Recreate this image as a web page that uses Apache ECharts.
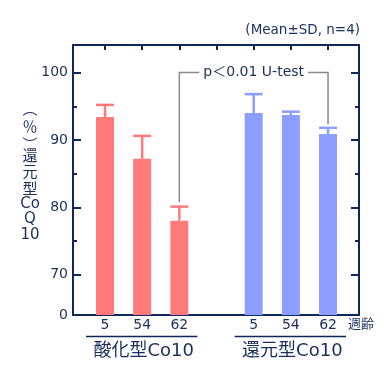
<!DOCTYPE html>
<html><head><meta charset="utf-8">
<script src="https://cdn.jsdelivr.net/npm/echarts@6/dist/echarts.min.js"></script>
<style>html,body{margin:0;padding:0;background:#fff}#c{width:384px;height:374px}</style>
</head><body><div id="c"></div>
<script>
// ---- data ----
const ages = ['5', '54', '62'];
const groupNames = ['酸化型Co10', '還元型Co10'];
const oxidizedMean = [93.4, 87.2, 78.0];
const oxidizedSD = [1.8, 3.4, 2.1];
const reducedMean = [94.0, 93.7, 90.9];
const reducedSD = [2.8, 0.5, 0.9];
const yMajorTicks = [70, 80, 90, 100];
const yMinorTicks = [75, 85, 95];
const yBreakValue = 64;      // bottom of the broken axis
const yBreakLabel = '0';
const yTop = 104.1;
const bracketLevel = 100;
const testText = 'p＜0.01 U-test';
const noteText = '(Mean±SD, n=4)';
const ageUnit = '週齢';
const yTitleParts = ['︵', '％', '︶', '還', '元', '型', 'Co', 'Q', '10'];

// ---- styles ----
const RED = '#FF7B7B', BLUE = '#8C9EFF', NAVY = '#10275A', TEXT = '#1A2E5E', GRAY = '#8A8A8A';
const FONT = '"DejaVu Sans", "Noto Sans CJK JP", sans-serif';
const CJK = '"Noto Sans CJK JP", sans-serif';

// slot positions: groups separated by one empty slot
const slotsPerGroup = ages.length + 1;
const slotOf = (g, i) => g * slotsPerGroup + i + 1;
const allSlots = [];
for (let s = 1; s <= slotsPerGroup * groupNames.length - 1; s++) allSlots.push(s);
const labelSlots = [];
const slotLabel = {};
groupNames.forEach((_, g) => ages.forEach((a, i) => { labelSlots.push(slotOf(g, i)); slotLabel[slotOf(g, i)] = a; }));

const means = [oxidizedMean, reducedMean];
const sds = [oxidizedSD, reducedSD];
const barData = [], errData = [];
means.forEach((arr, g) => arr.forEach((m, i) => {
  barData.push({ value: [slotOf(g, i), m], itemStyle: { color: g === 0 ? RED : BLUE } });
  errData.push([slotOf(g, i), m, sds[g][i], g]);
}));
const lastIdx = ages.length - 1;
const bracketData = [[slotOf(0, lastIdx), oxidizedMean[lastIdx] + oxidizedSD[lastIdx],
                      slotOf(1, lastIdx), reducedMean[lastIdx] + reducedSD[lastIdx], bracketLevel]];

const xMin = 0.139, xMax = 7.833;

const chart = echarts.init(document.getElementById('c'), null, { renderer: 'canvas' });
const baseX = { type: 'value', min: xMin, max: xMax, splitLine: { show: false } };
const baseY = { type: 'value', min: yBreakValue, max: yTop, splitLine: { show: false } };
const axisLine = { show: true, lineStyle: { color: NAVY, width: 2 } };

chart.setOption({
  animation: false,
  grid: { left: 73, right: 25, top: 45, bottom: 59, containLabel: false },
  textStyle: { fontFamily: FONT },
  xAxis: [
    Object.assign({}, baseX, {
      position: 'bottom', axisLine: axisLine, axisTick: { show: false },
      axisLabel: { customValues: labelSlots, formatter: v => slotLabel[Math.round(v)] || '',
        color: TEXT, fontSize: 14, margin: 3, fontFamily: FONT }
    }),
    Object.assign({}, baseX, {
      position: 'top', axisLine: axisLine,
      axisTick: { show: true, inside: true, length: 5, customValues: allSlots, lineStyle: { color: NAVY, width: 2 } },
      axisLabel: { show: false }
    })
  ],
  yAxis: [
    Object.assign({}, baseY, {
      position: 'left', axisLine: axisLine,
      axisTick: { show: true, inside: true, length: 8, customValues: yMajorTicks, lineStyle: { color: NAVY, width: 2 } },
      axisLabel: { customValues: [yBreakValue].concat(yMajorTicks),
        formatter: v => (Math.abs(v - yBreakValue) < 1e-6 ? yBreakLabel : String(v)),
        color: TEXT, fontSize: 14, margin: 5, fontFamily: FONT }
    }),
    Object.assign({}, baseY, {
      position: 'left', axisLine: { show: false },
      axisTick: { show: true, inside: true, length: 4, customValues: yMinorTicks, lineStyle: { color: NAVY, width: 2 } },
      axisLabel: { show: false }
    }),
    Object.assign({}, baseY, {
      position: 'right', axisLine: axisLine,
      axisTick: { show: true, inside: true, length: 8, customValues: yMajorTicks, lineStyle: { color: NAVY, width: 2 } },
      axisLabel: { show: false }
    }),
    Object.assign({}, baseY, {
      position: 'right', axisLine: { show: false },
      axisTick: { show: true, inside: true, length: 4, customValues: yMinorTicks, lineStyle: { color: NAVY, width: 2 } },
      axisLabel: { show: false }
    })
  ],
  series: [
    { type: 'bar', xAxisIndex: 0, yAxisIndex: 0, barWidth: 18, clip: true, data: barData, z: 2 },
    { type: 'custom', xAxisIndex: 0, yAxisIndex: 0, data: errData, z: 3,
      renderItem: function (params, api) {
        const x = api.value(0), m = api.value(1), s = api.value(2);
        const color = api.value(3) === 0 ? RED : BLUE;
        const pb = api.coord([x, m]), pt = api.coord([x, m + s]);
        return { type: 'group', children: [
          { type: 'line', shape: { x1: pb[0], y1: pb[1], x2: pt[0], y2: pt[1] }, style: { stroke: color, lineWidth: 2.5 } },
          { type: 'line', shape: { x1: pt[0] - 9, y1: pt[1], x2: pt[0] + 9, y2: pt[1] }, style: { stroke: color, lineWidth: 2.5 } }
        ]};
      }
    },
    { type: 'custom', xAxisIndex: 0, yAxisIndex: 0, data: bracketData, z: 4,
      renderItem: function (params, api) {
        const p1 = api.coord([api.value(0), api.value(1)]);
        const p2 = api.coord([api.value(2), api.value(3)]);
        const lv = api.coord([api.value(0), api.value(4)])[1];
        return { type: 'group', children: [
          { type: 'polyline', shape: { points: [[p1[0], p1[1] - 4.5], [p1[0], lv], [p2[0], lv], [p2[0], p2[1] - 3.5]] },
            style: { stroke: GRAY, lineWidth: 1.5, fill: null } },
          { type: 'text', x: (p1[0] + p2[0]) / 2, y: lv,
            style: { text: testText, fill: TEXT, font: '14px ' + FONT, align: 'center', verticalAlign: 'middle',
              backgroundColor: '#fff', padding: [0, 4] } }
        ]};
      }
    }
  ]
});

// ---- annotations positioned from the axes ----
const px = v => chart.convertToPixel({ xAxisIndex: 0 }, v);
const graphics = [];
groupNames.forEach((name, g) => {
  const xl = px(slotOf(g, 0)), xr = px(slotOf(g, ages.length - 1));
  const cx = (xl + xr) / 2 + 1.5;
  graphics.push({ type: 'line', shape: { x1: xl - 19, y1: 336.5, x2: xr + 18, y2: 336.5 }, style: { stroke: NAVY, lineWidth: 1.5 } });
  graphics.push({ type: 'text', x: cx, y: 351, style: { text: name, fill: TEXT, font: '18px ' + FONT, align: 'center', verticalAlign: 'middle' } });
});
graphics.push({ type: 'text', x: 348, y: 324.5, style: { text: ageUnit, fill: TEXT, font: '13px ' + FONT, align: 'left', verticalAlign: 'middle' } });
graphics.push({ type: 'text', x: 360, y: 30, style: { text: noteText, fill: TEXT, font: '13.5px ' + FONT, align: 'right', verticalAlign: 'middle' } });
const titleY = [108, 126, 144, 155, 171, 188, 204, 219, 235];
const titleFont = ['15px ' + CJK, '15px ' + CJK, '15px ' + CJK, '15px ' + CJK, '15px ' + CJK, '15px ' + CJK,
                   '15px ' + FONT, '15px ' + FONT, '15px ' + FONT];
yTitleParts.forEach((t, i) => {
  graphics.push({ type: 'text', x: 30, y: titleY[i],
    style: { text: t, fill: TEXT, font: titleFont[i], align: 'center', verticalAlign: 'middle' } });
});
chart.setOption({ graphic: graphics });
</script></body></html>
